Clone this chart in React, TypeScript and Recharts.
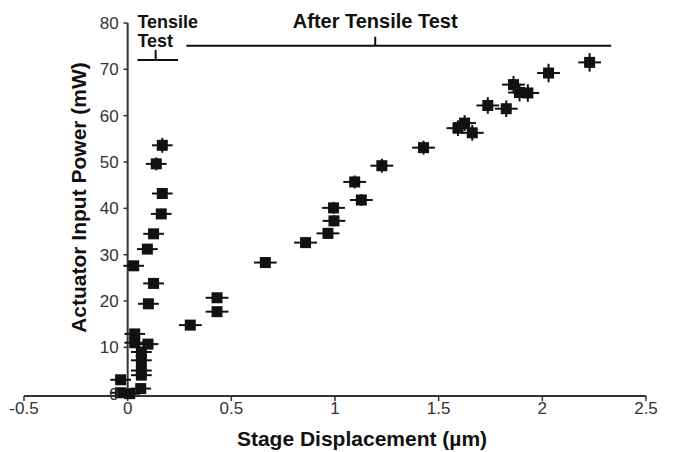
import { ErrorBar, ReferenceDot, ReferenceLine, Scatter, ScatterChart, XAxis, YAxis } from 'recharts';

const FONT = '"Liberation Sans", Arial, Helvetica, sans-serif';

// points measured during the tensile test
const tensileX = [0.167, 0.138, 0.167, 0.162, 0.125, 0.095, 0.029, 0.125, 0.1, 0.034, 0.034, 0.098, 0.066, 0.066, 0.066, 0.066, 0.063, -0.034, -0.035, 0.01];
const tensileY = [53.6, 49.6, 43.2, 38.8, 34.5, 31.2, 27.6, 23.8, 19.4, 12.9, 11.0, 10.7, 9.0, 7.2, 5.0, 4.0, 1.1, 3.0, 0.2, 0.0];
const tensileXErr = [0.05, 0.05, 0.05, 0.05, 0.05, 0.05, 0.05, 0.05, 0.05, 0.05, 0.05, 0.05, 0.05, 0.05, 0.05, 0.05, 0.05, 0.05, 0.05, 0.05];
const tensileYErr = [1.6, 1.4, 1.2, 1.1, 1.0, 0.9, 0.9, 0.8, 0.7, 0.6, 0.6, 0.6, 0.5, 0.5, 0.5, 0.5, 0.5, 0.5, 0.5, 0.5];

// points measured after the tensile test
const afterX = [0.302, 0.431, 0.431, 0.664, 0.858, 0.966, 0.995, 0.993, 1.127, 1.095, 1.226, 1.427, 1.593, 1.625, 1.662, 1.737, 1.826, 1.861, 1.89, 1.93, 2.03, 2.228];
const afterY = [14.8, 20.7, 17.7, 28.3, 32.6, 34.6, 37.3, 40.1, 41.8, 45.7, 49.2, 53.1, 57.3, 58.4, 56.3, 62.2, 61.5, 66.7, 65.0, 64.9, 69.2, 71.5];
const afterXErr = [0.055, 0.055, 0.055, 0.055, 0.055, 0.055, 0.055, 0.055, 0.055, 0.055, 0.055, 0.055, 0.055, 0.055, 0.055, 0.055, 0.055, 0.055, 0.055, 0.055, 0.055, 0.055];
const afterYErr = [0.8, 0.9, 0.9, 1.0, 1.1, 1.2, 1.2, 1.3, 1.3, 1.4, 1.5, 1.5, 1.7, 1.7, 1.7, 1.8, 1.8, 1.9, 1.9, 1.9, 2.0, 2.0];

const xTicks = [-0.5, 0, 0.5, 1, 1.5, 2, 2.5];
const yTicks = [0, 10, 20, 30, 40, 50, 60, 70, 80];

const tensileData = tensileX.map((x, i) => ({ x, y: tensileY[i], ex: tensileXErr[i], ey: tensileYErr[i] }));
const afterData = afterX.map((x, i) => ({ x, y: afterY[i], ex: afterXErr[i], ey: afterYErr[i] }));

const INK = '#111';
const AXIS = '#333';
const MARK = 11;

const Square = (p: any) => <rect x={p.cx - MARK / 2} y={p.cy - MARK / 2} width={MARK} height={MARK} fill={INK} />;

export default function App() {
  return (
    <div style={{ position: 'absolute', left: 0, top: 0, background: '#fff' }}>
      <ScatterChart width={676} height={452} margin={{ top: 23, right: 30, bottom: 0, left: 0 }}>
        <XAxis
          type="number"
          dataKey="x"
          domain={[-0.5, 2.5]}
          ticks={xTicks}
          height={56}
          tickSize={5}
          tickMargin={1}
          axisLine={{ stroke: AXIS, strokeWidth: 2 }}
          tickLine={{ stroke: AXIS, strokeWidth: 1.5 }}
          tick={{ fontSize: 17, fill: AXIS, fontFamily: FONT }}
          label={{
            content: (p: any) => {
              const vb = p.viewBox;
              return (
                <text x={vb.x + vb.width / 2 + 27} y={vb.y + 50} textAnchor="middle" fontSize={21} fontWeight="bold" fontFamily={FONT} fill={INK}>
                  Stage Displacement (µm)
                </text>
              );
            },
          }}
        />
        <YAxis
          type="number"
          dataKey="y"
          domain={[0, 80]}
          ticks={yTicks}
          width={24}
          axisLine={false}
          tickLine={false}
          tick={false}
          label={{
            content: (p: any) => {
              const vb = p.viewBox;
              const cx = vb.x + 78;
              const cy = vb.y + vb.height / 2 - 12;
              return (
                <text x={cx} y={cy} transform={`rotate(-90 ${cx} ${cy})`} textAnchor="middle" dominantBaseline="central" fontSize={21} fontWeight="bold" fontFamily={FONT} fill={INK}>
                  Actuator Input Power (mW)
                </text>
              );
            },
          }}
        />

        {/* y axis drawn at x = 0 */}
        <ReferenceLine x={0} stroke={AXIS} strokeWidth={2} />
        {yTicks.map((v) => (
          <ReferenceLine key={`t${v}`} segment={[{ x: -0.02, y: v }, { x: 0, y: v }]} stroke={AXIS} strokeWidth={1.5} />
        ))}
        {yTicks.map((v) => (
          <ReferenceDot
            key={`l${v}`}
            x={0}
            y={v}
            r={0}
            stroke="none"
            fill="none"
            label={{ value: v, position: 'left', offset: 9, fontSize: 17, fill: AXIS, fontFamily: FONT }}
          />
        ))}

        {/* brackets */}
        <ReferenceLine segment={[{ x: 0.047, y: 72 }, { x: 0.243, y: 72 }]} stroke={INK} strokeWidth={2} />
        <ReferenceLine segment={[{ x: 0.135, y: 72 }, { x: 0.135, y: 74.2 }]} stroke={INK} strokeWidth={2} />
        <ReferenceLine segment={[{ x: 0.283, y: 75.1 }, { x: 2.332, y: 75.1 }]} stroke={INK} strokeWidth={2} />
        <ReferenceLine segment={[{ x: 1.194, y: 75.1 }, { x: 1.194, y: 77.05 }]} stroke={INK} strokeWidth={2} />
        <ReferenceDot
          x={0.047}
          y={72}
          r={0}
          stroke="none"
          fill="none"
          label={{
            content: (p: any) => {
              const vb = p.viewBox;
              return (
                <text x={vb.x} y={vb.y} fontSize={18} fontWeight="bold" fontFamily={FONT} fill={INK}>
                  <tspan x={vb.x} dy={-32}>Tensile</tspan>
                  <tspan x={vb.x} dy={19}>Test</tspan>
                </text>
              );
            },
          }}
        />
        <ReferenceDot
          x={1.194}
          y={77.05}
          r={0}
          stroke="none"
          fill="none"
          label={{ value: 'After Tensile Test', position: 'top', offset: 9, fontSize: 20, fontWeight: 'bold', fill: INK, fontFamily: FONT }}
        />

        <Scatter name="Tensile Test" data={tensileData} fill={INK} shape={Square} isAnimationActive={false}>
          <ErrorBar dataKey="ex" direction="x" width={0} stroke={INK} strokeWidth={2} />
          <ErrorBar dataKey="ey" direction="y" width={0} stroke={INK} strokeWidth={2} />
        </Scatter>
        <Scatter name="After Tensile Test" data={afterData} fill={INK} shape={Square} isAnimationActive={false}>
          <ErrorBar dataKey="ex" direction="x" width={0} stroke={INK} strokeWidth={2} />
          <ErrorBar dataKey="ey" direction="y" width={0} stroke={INK} strokeWidth={2} />
        </Scatter>
      </ScatterChart>
    </div>
  );
}
